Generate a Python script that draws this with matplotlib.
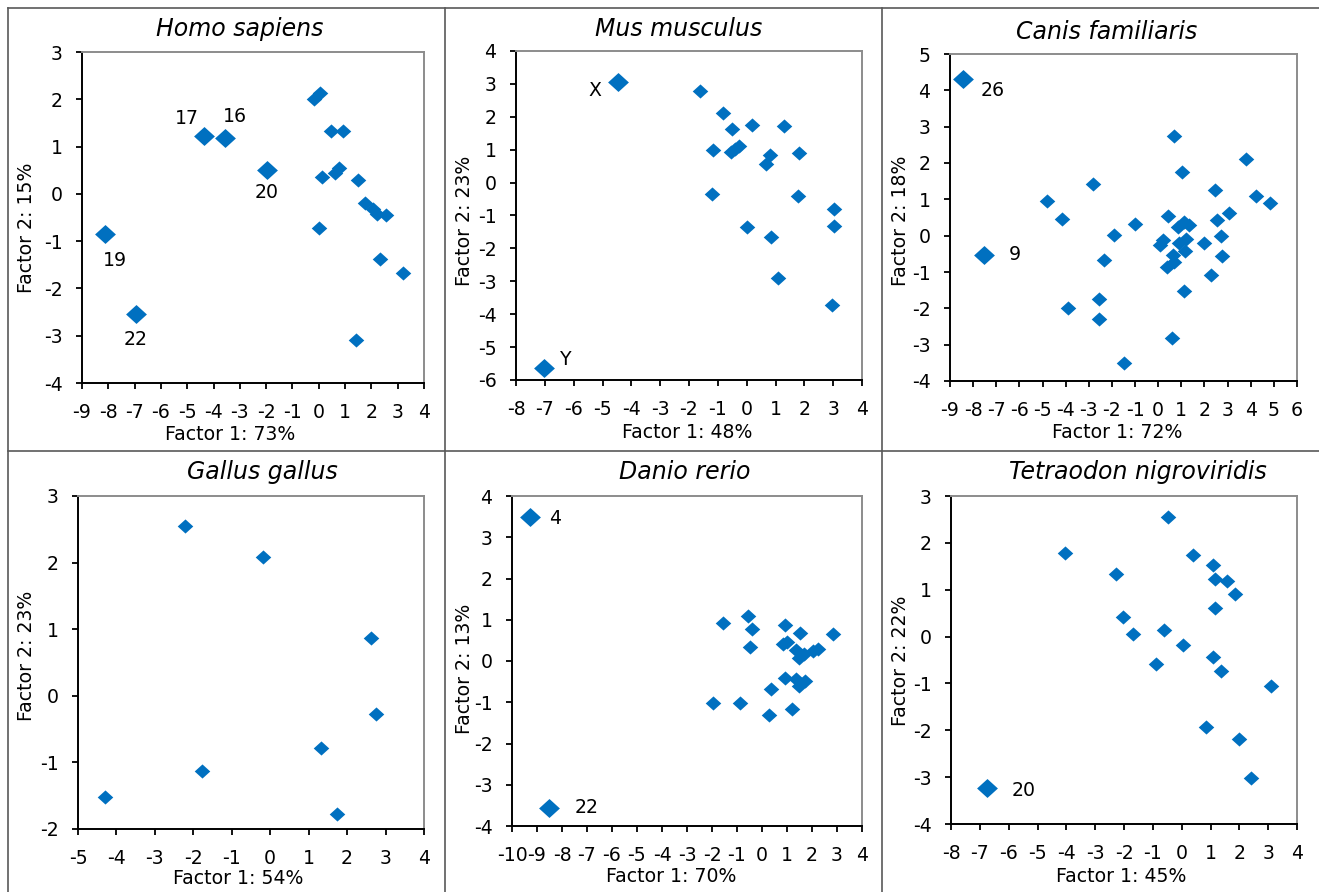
import matplotlib
matplotlib.use("Agg")
import matplotlib.pyplot as plt
from matplotlib.lines import Line2D

plt.rcParams['font.family'] = ['DejaVu Sans']
plt.rcParams['axes.unicode_minus'] = False

W, H = 1319, 892

# ---------------- data ----------------
# Homo sapiens
hs_x = [-0.20, 0.05, 0.47, 0.94, 0.11, 0.62, 0.75, 1.51, 1.76, 2.08, 2.20, 2.56, 0.00, 2.33, 3.22, 1.42]
hs_y = [2.01, 2.13, 1.33, 1.33, 0.36, 0.44, 0.55, 0.30, -0.19, -0.33, -0.43, -0.45, -0.73, -1.37, -1.68, -3.09]
hs_big_x = [-8.14, -6.94, -4.38, -3.56, -1.97]
hs_big_y = [-0.84, -2.55, 1.22, 1.19, 0.50]
hs_big_labels = ["19", "22", "17", "16", "20"]

# Mus musculus
mm_x = [-1.63, -0.81, -0.52, 0.18, 1.31, -1.17, -0.55, -0.40, -0.26, 0.82, 0.68, 1.83,
        -1.21, 1.77, 3.02, 3.02, 0.01, 0.85, 1.08, 2.96]
mm_y = [2.79, 2.12, 1.64, 1.76, 1.73, 0.98, 0.93, 1.03, 1.12, 0.85, 0.58, 0.90,
        -0.34, -0.41, -0.81, -1.31, -1.34, -1.66, -2.91, -3.72]
mm_big_x = [-4.45, -7.02]
mm_big_y = [3.06, -5.65]
mm_big_labels = ["X", "Y"]

# Canis familiaris
cf_x = [-4.79, -4.17, -2.80, -0.99, -1.93, -2.33, -2.58, -2.54, -3.91, -1.47, 0.67, 1.01,
        0.41, 3.81, 2.44, 4.23, 4.82, 3.08, 2.54, 2.72, 2.76, 2.28, 1.97, 1.10, 0.60,
        0.86, 1.10, 1.32, 0.91, 1.22, 1.17, 0.21, 0.06, 0.64, 0.38, 0.67]
cf_y = [0.95, 0.45, 1.41, 0.31, 0.01, -0.67, -1.73, -2.28, -1.99, -3.50, 2.74, 1.76,
        0.54, 2.11, 1.27, 1.09, 0.89, 0.63, 0.43, 0.00, -0.56, -1.07, -0.19, -1.53, -2.81,
        0.24, 0.38, 0.29, -0.20, -0.08, -0.42, -0.11, -0.26, -0.54, -0.86, -0.72]
cf_big_x = [-8.42, -7.53]
cf_big_y = [4.31, -0.54]
cf_big_labels = ["26", "9"]

# Gallus gallus
gg_x = [-2.21, -0.20, 2.63, 2.76, 1.33, -1.78, -4.31, 1.73]
gg_y = [2.55, 2.09, 0.87, -0.28, -0.78, -1.13, -1.52, -1.77]

# Danio rerio
dr_x = [-1.56, -0.56, -0.40, -0.49, 0.91, 1.51, 2.84, 0.83, 1.00, 1.37, 1.47, 1.67, 2.04,
        2.24, 0.93, 1.37, 1.47, 1.73, 0.37, 1.20, 0.27, -1.96, -0.87]
dr_y = [0.91, 1.08, 0.78, 0.34, 0.88, 0.69, 0.66, 0.42, 0.46, 0.26, 0.07, 0.18, 0.24,
        0.28, -0.41, -0.43, -0.61, -0.49, -0.69, -1.16, -1.30, -1.02, -1.02]
dr_big_x = [-9.29, -8.51]
dr_big_y = [3.49, -3.56]
dr_big_labels = ["4", "22"]

# Tetraodon nigroviridis
tn_x = [-4.04, -0.49, -2.27, 0.39, 1.07, 1.17, 1.57, 1.84, 1.17, -2.02, -1.70, -0.63,
        0.03, -0.89, 1.07, 1.36, 3.11, 0.84, 2.00, 2.42]
tn_y = [1.78, 2.55, 1.34, 1.75, 1.52, 1.23, 1.19, 0.90, 0.60, 0.42, 0.06, 0.15,
        -0.17, -0.58, -0.43, -0.74, -1.06, -1.94, -2.19, -3.01]
tn_big_x = [-6.74]
tn_big_y = [-3.24]
tn_big_labels = ["20"]

titles = ["Homo sapiens", "Mus musculus", "Canis familiaris",
          "Gallus gallus", "Danio rerio", "Tetraodon nigroviridis"]
xlabels = ["Factor 1: 73%", "Factor 1: 48%", "Factor 1: 72%",
           "Factor 1: 54%", "Factor 1: 70%", "Factor 1: 45%"]
ylabels = ["Factor 2: 15%", "Factor 2: 23%", "Factor 2: 18%",
           "Factor 2: 23%", "Factor 2: 13%", "Factor 2: 22%"]
xlims = [(-9, 4), (-8, 4), (-9, 6), (-5, 4), (-10, 4), (-8, 4)]
ylims = [(-4, 3), (-6, 4), (-4, 5), (-2, 3), (-4, 4), (-4, 3)]

# ---------------- layout (pixels) ----------------
axes_px = [(82, 424, 52, 383), (516, 862, 51, 380), (950, 1297, 54, 381),
           (78, 424, 496, 829), (512, 862, 496, 826), (951, 1297, 496, 824)]
title_px = [(240, 29), (679, 29), (1107, 32), (262, 472), (685, 472), (1138, 472)]
xlab_px = [(230, 435), (687, 433), (1117, 433), (238, 878), (671, 877), (1121, 877)]
ylab_px = [(27, 228), (465, 221), (900, 221), (27, 656), (464, 669), (900, 661)]

# label offsets in points (x, y)
label_offsets = [
    [(7.7, -19.2), (-0.7, -18.0), (-12.0, 12.7), (7.2, 14.9), (0.0, -16.3)],
    [(-16.8, -6.0), (15.6, 6.5)],
    [(21.0, -8.4), (22.3, 0.7)],
    [],
    [(18.5, -1.2), (27.0, 0.5)],
    [(26.4, -1.2)],
]

small_sets = [(hs_x, hs_y), (mm_x, mm_y), (cf_x, cf_y), (gg_x, gg_y), (dr_x, dr_y), (tn_x, tn_y)]
big_sets = [(hs_big_x, hs_big_y, hs_big_labels), (mm_big_x, mm_big_y, mm_big_labels),
            (cf_big_x, cf_big_y, cf_big_labels), ([], [], []),
            (dr_big_x, dr_big_y, dr_big_labels), (tn_big_x, tn_big_y, tn_big_labels)]

BLUE = '#0070C0'
diamond = [(-1.1, 0), (0, 1), (1.1, 0), (0, -1), (-1.1, 0)]

fig = plt.figure(figsize=(W / 100, H / 100), dpi=100)
fig.patch.set_facecolor('white')

TICK_FS = 13.6
for i in range(6):
    l, r, t, b = axes_px[i]
    ax = fig.add_axes([l / W, 1 - b / H, (r - l) / W, (b - t) / H])
    ax.set_xlim(*xlims[i])
    ax.set_ylim(*ylims[i])
    ax.set_xticks(range(xlims[i][0], xlims[i][1] + 1))
    ax.set_yticks(range(ylims[i][0], ylims[i][1] + 1))
    ax.tick_params(direction='out', length=4.5, width=1.3, color='black',
                   labelsize=TICK_FS, top=False, right=False)
    ax.tick_params(axis='x', pad=10)
    ax.tick_params(axis='y', pad=9.5)
    for s in ['left', 'bottom']:
        ax.spines[s].set_color('black')
        ax.spines[s].set_linewidth(1.4)
    for s in ['top', 'right']:
        ax.spines[s].set_color('#8c8c8c')
        ax.spines[s].set_linewidth(1.4)
    sx, sy = small_sets[i]
    ax.plot(sx, sy, linestyle='none', marker=diamond, markersize=11.2,
            color=BLUE, markeredgewidth=0, clip_on=False)
    bx, by, blab = big_sets[i]
    if bx:
        ax.plot(bx, by, linestyle='none', marker=diamond, markersize=15.0,
                color=BLUE, markeredgewidth=0, clip_on=False)
        for j, lab in enumerate(blab):
            ax.annotate(lab, (bx[j], by[j]), xytext=label_offsets[i][j],
                        textcoords='offset points', ha='center', va='center',
                        fontsize=TICK_FS, color='black')
    tx, ty = title_px[i]
    fig.text(tx / W, 1 - ty / H, titles[i], ha='center', va='center',
             fontsize=17, style='italic', color='black')
    xx, xy = xlab_px[i]
    fig.text(xx / W, 1 - xy / H, xlabels[i], ha='center', va='center',
             fontsize=TICK_FS, color='black')
    yx, yy = ylab_px[i]
    fig.text(yx / W, 1 - yy / H, ylabels[i], ha='center', va='center',
             fontsize=TICK_FS, rotation=90, color='black')

# panel separator lines
LC = '#595959'
def hline(y, x0, x1):
    fig.add_artist(Line2D([x0 / W, x1 / W], [1 - y / H, 1 - y / H], color=LC, lw=1.2,
                          transform=fig.transFigure))
def vline(x, y0, y1):
    fig.add_artist(Line2D([x / W, x / W], [1 - y0 / H, 1 - y1 / H], color=LC, lw=1.2,
                          transform=fig.transFigure))

hline(8, 8, W)
hline(451, 8, W)
vline(8, 8, H)
vline(445, 8, H)
vline(882, 8, H)

fig.savefig('out.png', dpi=100)
